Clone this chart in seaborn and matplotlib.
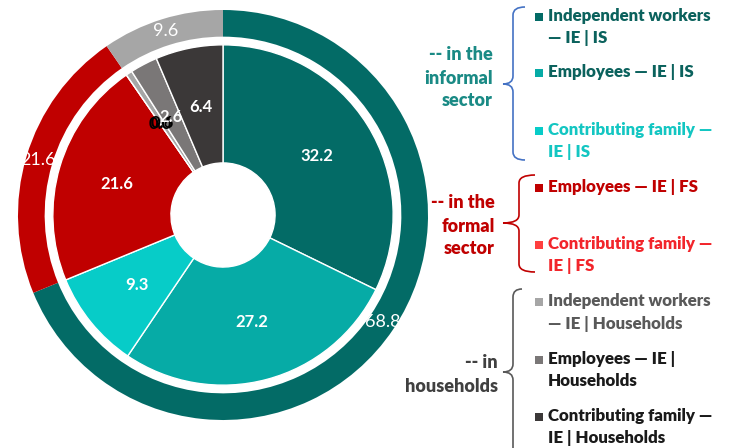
import numpy as np
import matplotlib.pyplot as plt
import seaborn as sns
from matplotlib.path import Path
from matplotlib.patches import PathPatch

sns.set_theme(style="white")
plt.rcParams['font.family'] = ['Lato', 'DejaVu Sans']

# outer ring: sector totals
sector_values = [68.8, 21.6, 9.6]
sector_colors = ['#036B66', '#C00000', '#A6A6A6']

# inner ring: status in employment by sector
job_labels = ['Independent workers\n— IE | IS', 'Employees — IE | IS', 'Contributing family —\nIE | IS',
              'Employees — IE | FS', 'Contributing family —\nIE | FS',
              'Independent workers\n— IE | Households', 'Employees — IE |\nHouseholds',
              'Contributing family —\nIE | Households']
job_values = [32.2, 27.2, 9.3, 21.6, 0.0, 0.6, 2.6, 6.4]
job_colors = ['#036B66', '#06ABA6', '#07CCC8', '#C00000', '#FF3F3F', '#A6A6A6', '#7A7777', '#3B3838']
job_text_colors = ['#0B625D', '#0B625D', '#13C6C2', '#C00000', '#F2252B', '#595959', '#1A1A1A', '#1A1A1A']
job_value_colors = ['white', 'white', 'white', 'white', 'black', 'black', 'white', 'white']

group_labels = ['-- in the\ninformal\nsector', '-- in the\nformal\nsector', '-- in\nhouseholds']
group_colors = ['#1A8A85', '#C00000', '#404040']
brace_colors = ['#4472C4', '#C00000', '#595959']

W, H = 729, 448
fig = plt.figure(figsize=(W / 100, H / 100), dpi=100)

cx, cy, R = 223, 215, 205
ax = fig.add_axes([(cx - R) / W, (H - cy - R) / H, 2 * R / W, 2 * R / H])

outer, _ = ax.pie(sector_values, radius=1, colors=sector_colors, startangle=90, counterclock=False,
                  wedgeprops=dict(width=0.13, edgecolor='none'))
inner, _ = ax.pie(job_values, radius=0.83, colors=job_colors, startangle=90, counterclock=False,
                  wedgeprops=dict(width=0.576, edgecolor='white', linewidth=1))
ax.set_xlim(-1, 1)
ax.set_ylim(-1, 1)
ax.set_aspect('equal')


def mid_xy(w, r):
    a = np.deg2rad((w.theta1 + w.theta2) / 2)
    return r * np.cos(a), r * np.sin(a)


for w, v in zip(outer, sector_values):
    x, y = mid_xy(w, 0.94)
    ax.text(x, y, f'{v:.1f}', color='white', fontsize=13, ha='center', va='center', clip_on=False)

for w, v, c in zip(inner, job_values, job_value_colors):
    x, y = mid_xy(w, 0.54)
    ax.text(x, y, f'{v:.1f}', color=c, fontsize=12, fontweight='bold', ha='center', va='center')

# right side legend (pixel coordinates)
lax = fig.add_axes([0, 0, 1, 1], facecolor='none')
lax.set_xlim(0, W)
lax.set_ylim(H, 0)
lax.axis('off')

item_y = [16, 72, 130, 187, 244, 301, 359, 416]
line_gap = 22.5
for lab, y, c, tc in zip(job_labels, item_y, job_colors, job_text_colors):
    lax.scatter([539], [y + 1], marker='s', s=40, color=c, linewidths=0)
    for i, line in enumerate(lab.split('\n')):
        lax.text(548, y + i * line_gap, line, color=tc, fontsize=12.2, fontweight='heavy',
                 ha='left', va='center')

group_y = [55, 203, 363]
group_x = [493, 495, 498]
for lab, x, y, c in zip(group_labels, group_x, group_y, group_colors):
    for i, line in enumerate(lab.split('\n')):
        lax.text(x, y + i * 23, line, color=c, fontsize=13, fontweight='heavy', ha='right', va='center')


def brace(x_line, x_end, x_tip, y0, ym, y1, color, k=8):
    verts = [(x_end, y0), (x_line, y0), (x_line, y0 + k),
             (x_line, ym - k), (x_line, ym), (x_tip, ym),
             (x_line, ym), (x_line, ym + k),
             (x_line, y1 - k), (x_line, y1), (x_end, y1)]
    codes = [Path.MOVETO, Path.CURVE3, Path.CURVE3,
             Path.LINETO, Path.CURVE3, Path.CURVE3,
             Path.CURVE3, Path.CURVE3,
             Path.LINETO, Path.CURVE3, Path.CURVE3]
    lax.add_patch(PathPatch(Path(verts, codes), fill=False, edgecolor=color, linewidth=1.2))


brace(513, 525, 503, 7, 84, 160, brace_colors[0])
brace(519, 535, 503, 175, 223, 272, brace_colors[1])
brace(513, 522, 503, 289, 372, 470, brace_colors[2])

fig.savefig('out.png', dpi=100)
